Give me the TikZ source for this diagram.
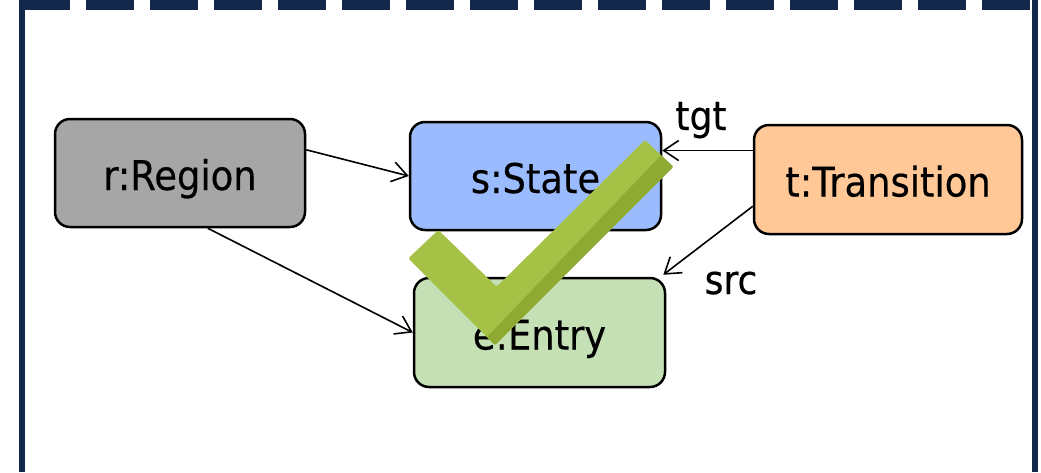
\documentclass[tikz,border=0pt]{standalone}
\usepackage{fontspec}
\setmainfont{DejaVu Sans}[FakeStretch=0.9, FakeBold=0.4]
\usetikzlibrary{arrows.meta,calc}
\definecolor{framenavy}{HTML}{13284A}
\definecolor{regiongray}{HTML}{A6A6A6}
\definecolor{stateblue}{HTML}{9BBBFF}
\definecolor{entrygreen}{HTML}{C5E0B4}
\definecolor{transorange}{HTML}{FFC896}
\definecolor{ticklight}{HTML}{A5C247}
\definecolor{tickdark}{HTML}{8EAA33}
\tikzset{
  objbox/.style={draw=black, line width=2.5pt, rounded corners=15pt,
    inner sep=0pt, text height=34pt, text depth=0pt,
    font=\fontsize{41}{48}\selectfont},
  link/.style={draw=black, line width=1.6pt, -{Straight Barb[length=15pt,width=20pt]}},
  rolelabel/.style={anchor=base, inner sep=0pt, font=\fontsize{40}{48}\selectfont}
}
\begin{document}
\begin{tikzpicture}[x=1pt, y=-1pt]
  \useasboundingbox (0,0) rectangle (1041,472);
  \fill[white] (0,0) rectangle (1041,472);

  % frame: solid sides, dashed top edge
  \draw[framenavy, line width=6pt] (22.3,0) -- (22.3,472);
  \draw[framenavy, line width=6pt] (1035.3,0) -- (1035.3,472);
  \draw[framenavy, line width=10.3pt, dash pattern=on 48pt off 16pt] (22,5.15) -- (1031,5.15);

  % objects
  \node[objbox, fill=regiongray, minimum width=250pt, minimum height=108pt] (r) at (180,173) {r:Region};
  \node[objbox, fill=stateblue, minimum width=251pt, minimum height=108pt] (s) at (535.5,176) {s:State};
  \node[objbox, fill=entrygreen, minimum width=251pt, minimum height=109pt] (e) at (539.5,332.5) {e:Entry};
  \node[objbox, fill=transorange, minimum width=268pt, minimum height=109pt] (t) at (888,179.5) {t:Transition};

  % links
  \draw[link] ($(r.north east)!0.29!(r.south east)$) -- (s.west);
  \draw[link] ($(r.south west)!0.61!(r.south east)$) -- (e.west);
  \coordinate (tgtstart) at ($(t.north west)!0.24!(t.south west)$);
  \draw[link] (tgtstart) -- (s.east |- tgtstart);
  \draw[link] ($(t.north west)!0.74!(t.south west)$) -- ([xshift=-3pt,yshift=2pt]e.north east);

  % role names
  \node[rolelabel] (tgt) at (701,130) {tgt};
  \node[rolelabel] (src) at (731,294) {src};

  % check mark over the diagram, with a shaded lower edge on the long stroke
  \fill[ticklight, rounded corners=1.5pt]
    (438.3,230) -- (408.3,258.3) -- (495,345) -- (673.3,166.7) -- (645,140) -- (496.7,286.7) -- cycle;
  \fill[tickdark, rounded corners=1pt]
    (661,155.3) -- (673.3,166.7) -- (495,345) -- (487,337) -- cycle;
\end{tikzpicture}
\end{document}
